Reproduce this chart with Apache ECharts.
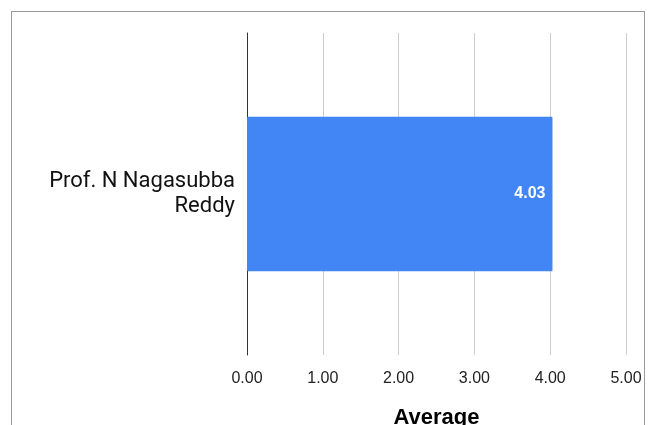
<!DOCTYPE html>
<html>
<head>
<meta charset="utf-8">
<script src="https://cdn.jsdelivr.net/npm/echarts@6/dist/echarts.min.js"></script>
<style>
  html, body { margin: 0; padding: 0; background: #fff; }
  #frame {
    position: absolute; left: 11px; top: 11px; width: 634px; height: 420px;
    border: 1px solid #999; border-bottom: none; box-sizing: border-box;
  }
  #chart { position: absolute; left: 0; top: 0; width: 655px; height: 425px; }
</style>
</head>
<body>
<div id="frame"></div>
<div id="chart"></div>
<script>
const categories = ['Prof. N Nagasubba Reddy']
const averages = [4.03]
const axisTicks = [0, 1, 2, 3, 4, 5]

const chart = echarts.init(document.getElementById('chart'))

chart.setOption({
  animation: false,
  textStyle: { fontFamily: 'Roboto, Arial, sans-serif' },
  grid: { left: 247, right: 29, top: 33, bottom: 70, outerBoundsMode: 'none', containLabel: false },
  xAxis: {
    type: 'value',
    min: axisTicks[0],
    max: axisTicks[axisTicks.length - 1],
    interval: 1,
    name: 'Average',
    nameLocation: 'middle',
    nameGap: 52,
    nameTextStyle: { fontSize: 22, fontWeight: 'bold', color: '#000', fontFamily: 'Liberation Sans, Arial, sans-serif' },
    axisLine: { show: false },
    axisTick: { show: false },
    axisLabel: {
      fontSize: 16,
      color: '#222',
      margin: 16,
      fontFamily: 'Liberation Sans, Arial, sans-serif',
      formatter: (v) => v.toFixed(2)
    },
    splitLine: { lineStyle: { color: '#cccccc', width: 1 } }
  },
  yAxis: {
    type: 'category',
    data: categories,
    axisLine: { lineStyle: { color: '#333', width: 1 } },
    axisTick: { show: false },
    axisLabel: {
      fontSize: 22,
      color: '#111',
      margin: 12,
      lineHeight: 25,
      align: 'right',
      formatter: (v) => v.replace(' Reddy', '\nReddy')
    }
  },
  series: [
    {
      type: 'bar',
      data: averages,
      barWidth: '48%',
      itemStyle: { color: '#4285f4', borderRadius: 1 },
      label: {
        show: true,
        position: 'insideRight',
        distance: 7,
        color: '#fff',
        fontSize: 16,
        fontWeight: 'bold',
        fontFamily: 'Liberation Sans, Arial, sans-serif',
        formatter: (p) => p.value.toFixed(2)
      }
    }
  ]
})
</script>
</body>
</html>
